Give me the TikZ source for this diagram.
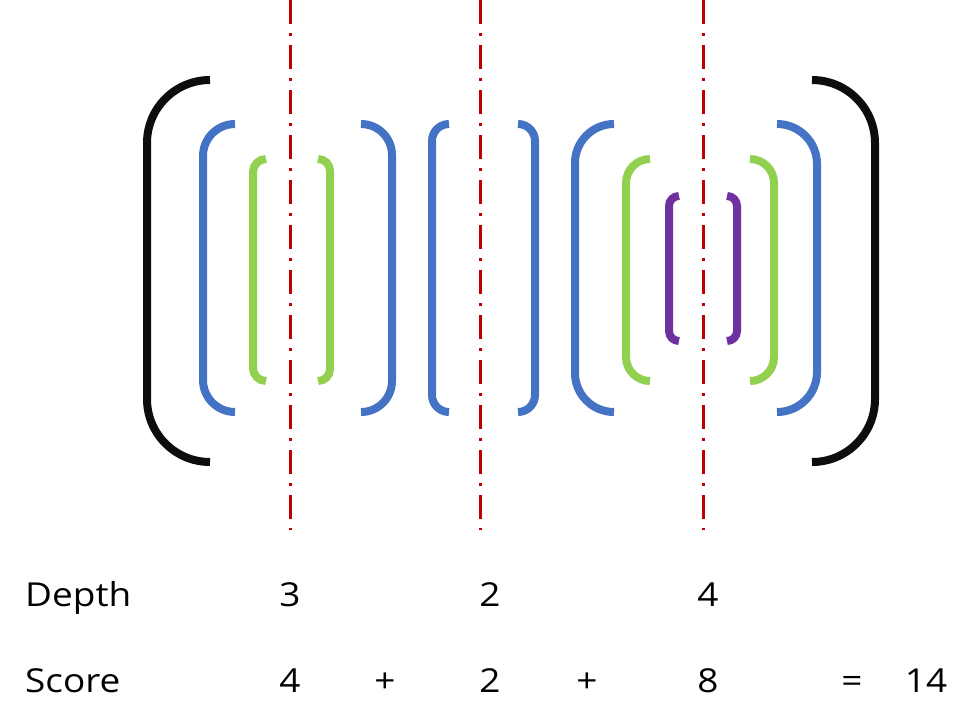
\documentclass[tikz,border=0pt]{standalone}
\usepackage{fontspec}
\setmainfont{Open Sans}[FakeStretch=1.12]
\usepackage{tikz}
\usetikzlibrary{positioning, calc}
\usepackage{xcolor}
\definecolor{brkBlack}{HTML}{0D0D0D}
\definecolor{brkBlue}{HTML}{4472C4}
\definecolor{brkGreen}{HTML}{92D050}
\definecolor{brkPurple}{HTML}{7030A0}
\definecolor{brkRed}{HTML}{C00000}

\begin{document}
\begin{tikzpicture}[x=1pt, y=-1pt,
    txt/.style={inner sep=0pt, anchor=base, font=\fontsize{33}{39}\selectfont}]
        % Marco de la figura (pixeles de la imagen)
        \useasboundingbox (0,0) rectangle (977,724);
        % Parentesis: v=x del tramo vertical, e=x del extremo, t/b=arriba/abajo
        \foreach \v/\e/\t/\b/\c in {147/210/80/462/brkBlack, 875/812/80/462/brkBlack,
                                   203/235/124/412/brkBlue, 392/361/124/412/brkBlue,
                                   253/266/159/381/brkGreen, 330/318/159/381/brkGreen,
                                   432/449/124/412/brkBlue, 535/518/124/412/brkBlue,
                                   575/614/124/412/brkBlue, 817/777/124/412/brkBlue,
                                   626/650/159/381/brkGreen, 774/750/159/381/brkGreen,
                                   669/679/196/341/brkPurple, 737/727/196/341/brkPurple} {
          \pgfmathsetmacro{\r}{abs(\e-\v)}
          \draw[\c, line width=8pt, rounded corners=\r pt]
            (\e,\t) -- (\v,\t) -- (\v,\b) -- (\e,\b);
        }
        % Cortes (linea de trazo y punto)
        \foreach \x in {290, 480, 703} {
          \draw[brkRed, line width=3pt, dash pattern=on 24pt off 9pt on 3pt off 9pt]
            (\x,0) -- (\x,530);
        }
        % Filas de texto
        \node[txt, anchor=base west] (depthLbl) at (25,606) {Depth};
        \node[txt, anchor=base west] (scoreLbl) at (25,692) {Score};
        \node[txt] (depthA) at (290,606) {3};
        \node[txt] (depthB) at (490,606) {2};
        \node[txt] (depthC) at (708,606) {4};
        \node[txt] (scoreA) at (290,692) {4};
        \node[txt] (plusA) at (385,692) {+};
        \node[txt] (scoreB) at (490,692) {2};
        \node[txt] (plusB) at (587,692) {+};
        \node[txt] (scoreC) at (708,692) {8};
        \node[txt] (eqSign) at (852,692) {=};
        \node[txt] (scoreSum) at (926,692) {14};
      \end{tikzpicture}
\end{document}
